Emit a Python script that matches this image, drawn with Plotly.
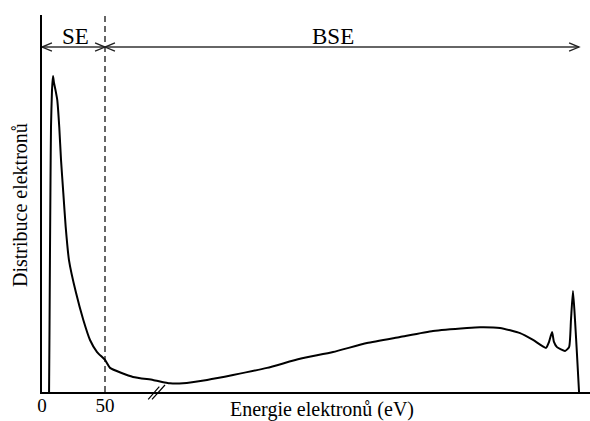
import plotly.graph_objects as go

# Energy (arbitrary, broken axis beyond 50 eV) and electron distribution
energy = [5.6, 5.95, 6.35, 6.75, 7.14, 7.94, 8.73, 9.52, 10.7, 12.1, 13.7, 15.1, 16.9,
          18.8, 21.4, 27.0, 32.8, 38.1, 43.7, 50.0, 54.0, 72.2, 88.1, 101.6, 111.9,
          131.0, 151.6, 178.6, 204.8, 231.0, 257.9, 284.1, 310.3, 337.3, 347.6, 363.5,
          379.4, 389.7, 400.0, 402.4, 404.8, 406.3, 408.7, 415.1, 418.3, 419.8, 421.4,
          423.0, 424.6, 426.2]
distribution = [0, 16.4, 37.7, 56.2, 70.3, 80.1, 83.8, 82.0, 80.1, 77.5, 70.3, 61.5, 52.8,
                43.8, 35.0, 26.3, 19.1, 13.8, 10.6, 8.5, 6.4, 4.0, 3.2, 2.3, 2.3,
                3.2, 4.5, 6.4, 8.8, 10.6, 13.0, 14.6, 16.2, 17.0, 17.2, 17.0,
                15.6, 13.8, 11.7, 13.3, 15.9, 13.3, 11.9, 10.9, 11.9, 19.1, 26.8,
                19.1, 9.8, 0]

tick_vals = [0, 50]
tick_text = ["0", "50"]
se_limit = 50
x_end = 426.2
arrow_y = 91.5
se_label_x = 26.6
bse_label_x = 231

FONT = "Liberation Serif"

fig = go.Figure()
fig.add_trace(go.Scatter(x=energy, y=distribution, mode="lines",
                         line=dict(color="black", width=2, shape="spline", smoothing=0.5),
                         hoverinfo="skip", showlegend=False))

shapes = []
# dashed separator
shapes.append(dict(type="line", xref="x", yref="y", x0=se_limit, x1=se_limit, y0=0, y1=100,
                   line=dict(color="black", width=1.2, dash="6px,4px")))
# arrow line
shapes.append(dict(type="line", xref="x", yref="y", x0=0, x1=x_end, y0=arrow_y, y1=arrow_y,
                   line=dict(color="#333333", width=1.5)))
ah_len, ah_h = 7.9, 1.1
def chevron(tip, direction):
    bx = tip + ah_len * direction
    return dict(type="path", xref="x", yref="y",
                path=f"M {bx},{arrow_y + ah_h} L {tip},{arrow_y} L {bx},{arrow_y - ah_h}",
                line=dict(color="#222222", width=1.3))
shapes.append(chevron(0, 1))
shapes.append(chevron(se_limit, -1))
shapes.append(chevron(se_limit, 1))
shapes.append(chevron(x_end, -1))
# axis break marks
shapes.append(dict(type="line", xref="x", yref="paper", x0=84.3, x1=93.1, y0=-0.0194, y1=0.0141,
                   line=dict(color="black", width=1.2), layer="above"))
shapes.append(dict(type="line", xref="x", yref="paper", x0=87.3, x1=97.6, y0=-0.0194, y1=0.0186,
                   line=dict(color="black", width=1.2), layer="above"))

annotations = [
    dict(text="SE", x=se_label_x, y=94.3, xref="x", yref="y", showarrow=False,
         yanchor="middle", font=dict(family=FONT, size=23, color="black")),
    dict(text="BSE", x=bse_label_x, y=94.3, xref="x", yref="y", showarrow=False,
         yanchor="middle", font=dict(family=FONT, size=23, color="black")),
    dict(text="Energie elektronů (eV)", x=222, y=(392 - 409) / 377, xref="x", yref="paper",
         xanchor="center", yanchor="middle",
         showarrow=False, font=dict(family=FONT, size=20, color="black")),
    dict(text="Distribuce elektronů", x=(20 - 42) / 548, y=(392 - 205) / 377,
         xref="paper", yref="paper", xanchor="center", yanchor="middle",
         showarrow=False, textangle=-90, font=dict(family=FONT, size=20, color="black")),
]

fig.update_layout(
    width=590, height=421,
    margin=dict(l=42, r=0, t=15, b=29),
    paper_bgcolor="white", plot_bgcolor="white",
    shapes=shapes, annotations=annotations,
    xaxis=dict(range=[0, 434.9], showgrid=False, zeroline=False, showline=True,
               linecolor="black", linewidth=1.5, tickvals=tick_vals, ticktext=tick_text,
               ticks="", ticklabelstandoff=-5,
               tickfont=dict(family=FONT, size=19, color="black")),
    yaxis=dict(range=[0, 100], showgrid=False, zeroline=False, showline=True,
               linecolor="black", linewidth=1.5, showticklabels=False, ticks=""),
    showlegend=False,
)
fig.write_html("out.html", config={"displayModeBar": False},
               post_script="document.body.style.margin='0';document.body.style.padding='0';")
